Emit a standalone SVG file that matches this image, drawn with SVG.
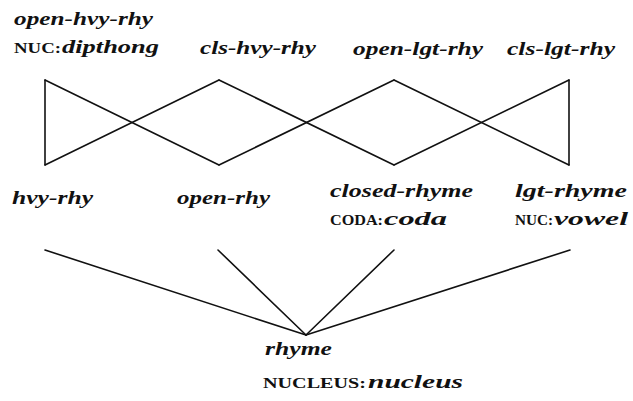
<svg xmlns="http://www.w3.org/2000/svg" width="633" height="401" viewBox="0 0 633 401">
<style>
.t{font-family:"Liberation Serif","DejaVu Serif",serif;font-style:italic;font-weight:bold;font-size:19px;fill:#111}
.sc{font-family:"Liberation Serif","DejaVu Serif",serif;font-style:normal;font-weight:bold;font-size:15px;fill:#111}
.e{stroke:#111;stroke-width:1.6;fill:none;stroke-linecap:round}
</style>
<rect width="633" height="401" fill="#fff"/>
<g id="connectors">
<line class="e" x1="45" y1="80" x2="45" y2="165"/>
<line class="e" x1="45" y1="80" x2="219" y2="165"/>
<line class="e" x1="219" y1="80" x2="45" y2="165"/>
<line class="e" x1="219" y1="80" x2="394" y2="165"/>
<line class="e" x1="394" y1="80" x2="219" y2="165"/>
<line class="e" x1="394" y1="80" x2="569" y2="165"/>
<line class="e" x1="569" y1="80" x2="394" y2="165"/>
<line class="e" x1="569" y1="80" x2="569" y2="165"/>
<line class="e" x1="45" y1="250" x2="306" y2="335"/>
<line class="e" x1="218" y1="250" x2="306" y2="335"/>
<line class="e" x1="394" y1="250" x2="306" y2="335"/>
<line class="e" x1="570" y1="250" x2="306" y2="335"/>
</g>
<g id="open-hvy-rhy">
<text class="t" x="14" y="25" textLength="139" lengthAdjust="spacingAndGlyphs">open-hvy-rhy</text>
<text y="53"><tspan class="sc" x="14" textLength="47" lengthAdjust="spacingAndGlyphs">NUC:</tspan><tspan class="t" x="62" textLength="97" lengthAdjust="spacingAndGlyphs">dipthong</tspan></text>
</g>
<g id="cls-hvy-rhy">
<text class="t" x="200" y="54" textLength="116" lengthAdjust="spacingAndGlyphs">cls-hvy-rhy</text>
</g>
<g id="open-lgt-rhy">
<text class="t" x="353" y="55" textLength="130" lengthAdjust="spacingAndGlyphs">open-lgt-rhy</text>
</g>
<g id="cls-lgt-rhy">
<text class="t" x="507" y="55" textLength="108" lengthAdjust="spacingAndGlyphs">cls-lgt-rhy</text>
</g>
<g id="hvy-rhy">
<text class="t" x="12" y="204" textLength="81" lengthAdjust="spacingAndGlyphs">hvy-rhy</text>
</g>
<g id="open-rhy">
<text class="t" x="177" y="204" textLength="93" lengthAdjust="spacingAndGlyphs">open-rhy</text>
</g>
<g id="closed-rhyme">
<text class="t" x="330" y="197" textLength="143" lengthAdjust="spacingAndGlyphs">closed-rhyme</text>
<text y="225"><tspan class="sc" x="330" textLength="53" lengthAdjust="spacingAndGlyphs">CODA:</tspan><tspan class="t" x="384" textLength="63" lengthAdjust="spacingAndGlyphs">coda</tspan></text>
</g>
<g id="lgt-rhyme">
<text class="t" x="515" y="197" textLength="112" lengthAdjust="spacingAndGlyphs">lgt-rhyme</text>
<text y="225"><tspan class="sc" x="515" textLength="38" lengthAdjust="spacingAndGlyphs">NUC:</tspan><tspan class="t" x="554" textLength="74" lengthAdjust="spacingAndGlyphs">vowel</tspan></text>
</g>
<g id="rhyme">
<text class="t" x="265" y="355" textLength="67" lengthAdjust="spacingAndGlyphs">rhyme</text>
<text y="388"><tspan class="sc" x="263" textLength="103" lengthAdjust="spacingAndGlyphs">NUCLEUS:</tspan><tspan class="t" x="368" textLength="95" lengthAdjust="spacingAndGlyphs">nucleus</tspan></text>
</g>
</svg>
